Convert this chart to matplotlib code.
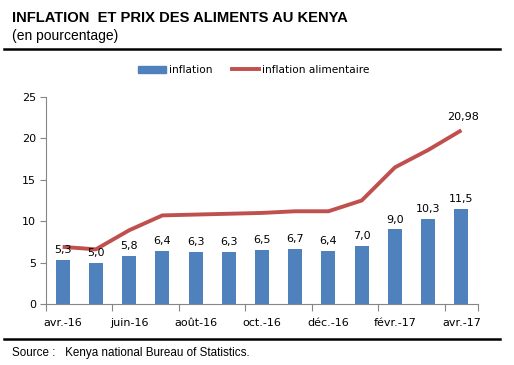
import matplotlib
matplotlib.use("Agg")
import matplotlib.pyplot as plt
from matplotlib.lines import Line2D
from matplotlib.patches import Patch

# données
mois = ["avr.-16", "mai-16", "juin-16", "juil.-16", "août-16", "sept.-16", "oct.-16",
        "nov.-16", "déc.-16", "janv.-17", "févr.-17", "mars-17", "avr.-17"]
inflation = [5.3, 5.0, 5.8, 6.4, 6.3, 6.3, 6.5, 6.7, 6.4, 7.0, 9.0, 10.3, 11.5]
inflation_alim = [6.9, 6.6, 8.9, 10.7, 10.8, 10.9, 11.0, 11.2, 11.2, 12.5, 16.5, 18.6, 20.98]

W, H = 514, 365
BLEU = "#4F81BD"
ROUGE = "#C0504D"
GRIS = "#868686"
FS = 8

fig = plt.figure(figsize=(W / 100, H / 100), dpi=100)

def px(x0, y0, x1, y1):
    return [x0 / W, 1 - y1 / H, (x1 - x0) / W, (y1 - y0) / H]

ax = fig.add_axes(px(46, 97, 478, 304))
x = list(range(len(mois)))
ax.bar(x, inflation, width=0.42, color=BLEU, zorder=2)
ax.plot(x, inflation_alim, color=ROUGE, lw=2.8, zorder=3, solid_capstyle="butt")

for i, v in enumerate(inflation):
    ax.annotate(f"{v:.1f}".replace(".", ","), (i, v), xytext=(0, 3.5), textcoords="offset points",
                ha="center", va="bottom", fontsize=FS, color="black", zorder=4)
ax.annotate(f"{inflation_alim[-1]:.2f}".replace(".", ","), (x[-1], inflation_alim[-1]),
            xytext=(1, 6), textcoords="offset points", ha="center", va="bottom",
            fontsize=FS, color="black")

ax.set_xlim(-0.5, len(mois) - 0.5)
ax.set_ylim(0, 25)
ax.set_yticks([0, 5, 10, 15, 20, 25])
ax.set_xticks([i - 0.5 for i in range(0, len(mois), 2)] + [len(mois) - 0.5])
ax.set_xticklabels([])
ax.set_xticks(x[::2], minor=True)
ax.set_xticklabels(mois[::2], minor=True)
ax.tick_params(axis="x", which="major", length=5, width=0.8, color=GRIS, direction="out")
ax.tick_params(axis="x", which="minor", length=0, labelsize=FS, pad=10)
ax.tick_params(axis="y", length=4, width=0.8, color=GRIS, labelsize=FS, pad=3)
for s in ["top", "right"]:
    ax.spines[s].set_visible(False)
for s in ["left", "bottom"]:
    ax.spines[s].set_color(GRIS)
    ax.spines[s].set_linewidth(0.8)
ax.set_facecolor("none")

handles = [Patch(color=BLEU, label="inflation"),
           Line2D([], [], color=ROUGE, lw=2.8, label="inflation alimentaire")]
fig.legend(handles=handles, loc="center", bbox_to_anchor=(254 / W, 1 - 70 / H), ncol=2,
           frameon=False, fontsize=7.6, handlelength=2.6, handleheight=0.7,
           columnspacing=1.8, handletextpad=0.3)

fig.text(12 / W, 1 - 18 / H, "INFLATION  ET PRIX DES ALIMENTS AU KENYA", fontsize=10.6,
         fontweight="bold", family="Liberation Sans", va="center", ha="left")
fig.text(12 / W, 1 - 36 / H, "(en pourcentage)", fontsize=10, family="Liberation Sans",
         va="center", ha="left")
fig.add_artist(Line2D([4 / W, 500 / W], [1 - 48.5 / H] * 2, color="black", lw=1.8))
fig.add_artist(Line2D([4 / W, 500 / W], [1 - 338.5 / H] * 2, color="black", lw=1.8))
fig.text(12 / W, 1 - 353 / H, "Source :   Kenya national Bureau of Statistics.", fontsize=8.4,
         family="Liberation Sans", va="center", ha="left")

fig.savefig("out.png", dpi=100)
